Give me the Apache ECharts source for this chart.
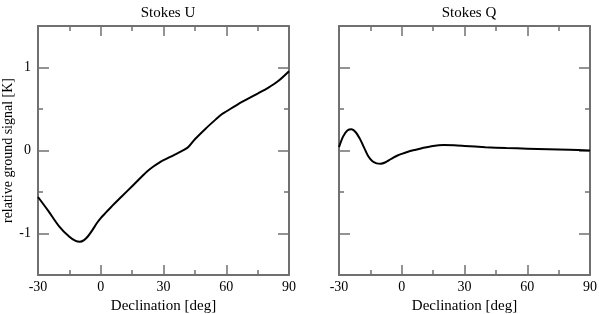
<!DOCTYPE html>
<html><head><meta charset="utf-8">
<script src="https://cdn.jsdelivr.net/npm/echarts@6/dist/echarts.min.js"></script>
<style>html,body{margin:0;padding:0;background:#fff}#c{width:599px;height:314px}</style>
</head><body><div id="c"></div>
<script>
// Declination [deg] and relative ground signal [K]
const uDec = [-30,-25,-20,-15,-12,-10,-8,-6,-4,-2,0,2,5,10,15,20,22,25,28,30,35,40,42,45,50,55,58,60,65,70,75,80,85,90];
const uVal = [-0.56,-0.73,-0.91,-1.04,-1.09,-1.10,-1.08,-1.03,-0.96,-0.88,-0.815,-0.76,-0.68,-0.555,-0.43,-0.305,-0.255,-0.195,-0.145,-0.117,-0.055,0.01,0.045,0.135,0.26,0.375,0.44,0.47,0.548,0.618,0.686,0.755,0.84,0.955];
const qDec = [-30,-28,-26,-24,-22,-20,-18,-16,-14,-12,-10,-8,-6,-4,-2,0,3,6,10,15,20,25,30,40,50,60,70,80,90];
const qVal = [0.04,0.17,0.24,0.255,0.22,0.14,0.035,-0.07,-0.13,-0.155,-0.16,-0.145,-0.115,-0.085,-0.06,-0.04,-0.015,0.005,0.03,0.055,0.065,0.062,0.055,0.04,0.03,0.022,0.015,0.008,0.0];
const xTicks = [-30,0,30,60,90];
const yTicks = [-1,0,1];
const titles = ['Stokes U','Stokes Q'];
const xName = 'Declination [deg]';
const yName = 'relative ground signal [K]';

const FONT = 'Liberation Serif';
const AX = '#707070';
const chart = echarts.init(document.getElementById('c'));
function pairs(xs, ys){ return xs.map((x,i)=>[x, ys[i]]); }
const grids = [
  {left:38, right:310, top:26, bottom:39, containLabel:false, outerBoundsMode:'none'},
  {left:339, right:9, top:26, bottom:39, containLabel:false, outerBoundsMode:'none'}
];
const xAxes = [], yAxes = [];
for (let g=0; g<2; g++) {
  for (const pos of ['bottom','top']) {
    const main = pos==='bottom';
    xAxes.push({
      type:'value', gridIndex:g, position:pos, min:-30, max:90, interval:30,
      name: main ? xName : '', nameLocation:'middle', nameGap:19,
      nameTextStyle:{fontFamily:FONT, fontSize:15, color:'#000'},
      axisLine:{show:true, onZero:false, lineStyle:{color:AX, width:2}},
      axisTick:{show:true, inside:true, length:10, lineStyle:{color:AX, width:1.5}},
      minorTick:{show:true, splitNumber:2, length:5, lineStyle:{color:AX, width:1.5}},
      axisLabel:{show:main, fontFamily:FONT, fontSize:14, color:'#000', margin:5,
        formatter:v=> xTicks.includes(v) ? String(v) : ''},
      splitLine:{show:false}
    });
  }
  for (const pos of ['left','right']) {
    const main = pos==='left' && g===0;
    yAxes.push({
      type:'value', gridIndex:g, position:pos, min:-1.5, max:1.5, interval:0.5,
      name: main ? yName : '', nameLocation:'middle', nameGap:21,
      nameTextStyle:{fontFamily:FONT, fontSize:14, color:'#000'},
      axisLine:{show:true, onZero:false, lineStyle:{color:AX, width:2}},
      axisTick:{show:true, inside:true, length:5, lineStyle:{color:AX, width:1.5},
        customValues:[-1,-0.5,0,0.5,1]},
      minorTick:{show:false},
      axisLabel:{show:main, fontFamily:FONT, fontSize:14, color:'#000', margin:7,
        customValues: yTicks, formatter:v=>String(v)},
      splitLine:{show:false}
    });
  }
}
// major y ticks as separate overlay axes (longer)
for (let g=0; g<2; g++) {
  for (const pos of ['left','right']) {
    yAxes.push({
      type:'value', gridIndex:g, position:pos, min:-1.5, max:1.5, interval:0.5,
      axisLine:{show:false, onZero:false},
      axisTick:{show:true, inside:true, length:11, lineStyle:{color:AX, width:1.5}, customValues: yTicks},
      axisLabel:{show:false}, splitLine:{show:false}
    });
  }
}
chart.setOption({
  animation:false,
  backgroundColor:'#fff',
  title: titles.map((t,i)=>({text:t, left: i===0 ? 163 : 464, top:1, textAlign:'center',
    textStyle:{fontFamily:FONT, fontSize:15, fontWeight:'normal', color:'#000'}})),
  grid: grids,
  xAxis: xAxes,
  yAxis: yAxes,
  series: [
    {type:'line', xAxisIndex:0, yAxisIndex:0, data:pairs(uDec,uVal), smooth:0.3, showSymbol:false,
      lineStyle:{color:'#000', width:2}},
    {type:'line', xAxisIndex:2, yAxisIndex:2, data:pairs(qDec,qVal), smooth:0.3, showSymbol:false,
      lineStyle:{color:'#000', width:2}}
  ]
});
</script></body></html>
